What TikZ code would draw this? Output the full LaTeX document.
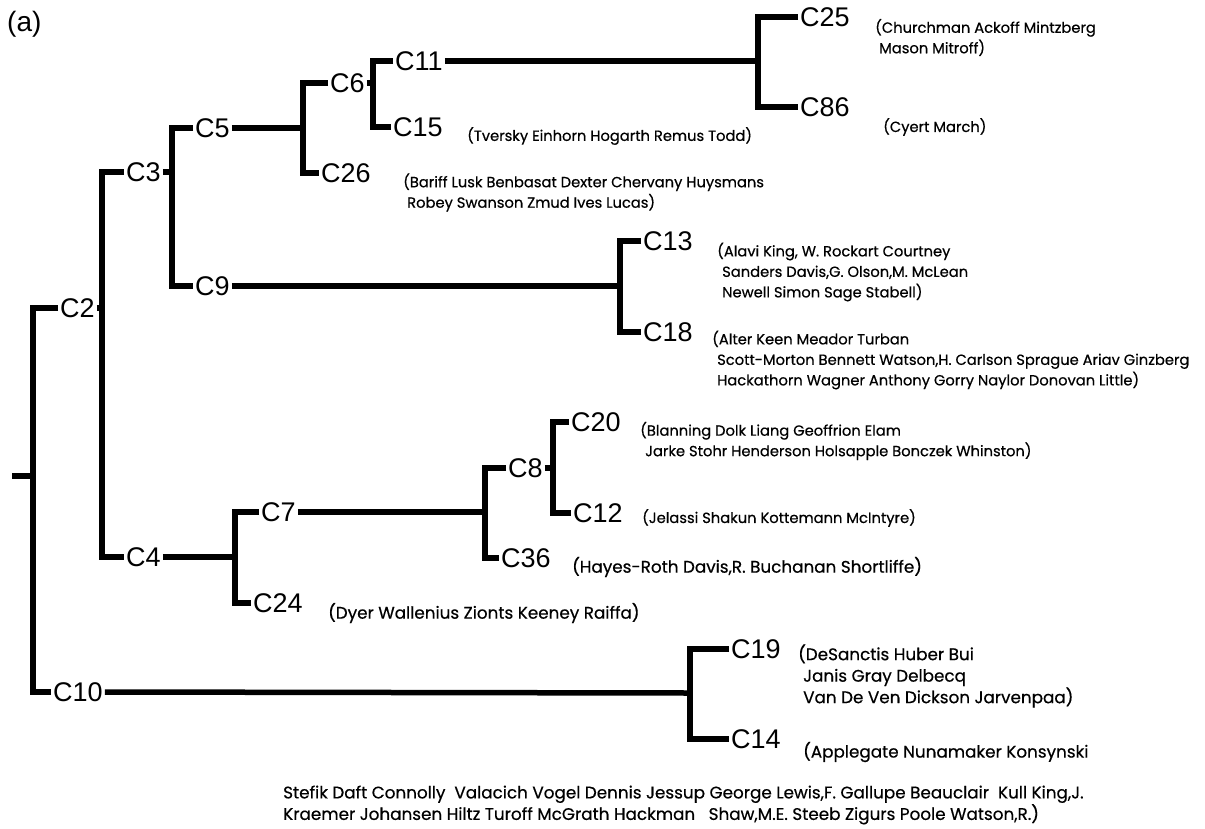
\documentclass[tikz,border=0pt]{standalone}
\usepackage{fontspec}
\setmainfont{Liberation Sans}
\newfontfamily\namefont[FakeBold=0.5]{Poppins}

\begin{document}
\begin{tikzpicture}[x=1pt, y=-1pt,
    clus/.style={anchor=west, inner sep=2pt, font=\fontsize{27}{27}\selectfont},
    who/.style={anchor=west, inner sep=0pt, align=left, font=\namefont\fontsize{14.7}{20.5}\selectfont},
    whobig/.style={who, font=\namefont\fontsize{16.8}{21.5}\selectfont},
    branch/.style={line width=5.5pt, line join=miter}]
    \useasboundingbox (0,0) rectangle (1205,828);

    \node[anchor=west, inner sep=0pt, font=\fontsize{28}{28}\selectfont] (tag) at (7,24) {(a)};

    % cluster labels
    \node[clus] (c2)  at (58,308)  {C2};
    \node[clus] (c10) at (51,692)  {C10};
    \node[clus] (c3)  at (124,172) {C3};
    \node[clus] (c4)  at (124,557) {C4};
    \node[clus] (c5)  at (193,128) {C5};
    \node[clus] (c9)  at (193,286) {C9};
    \node[clus] (c6)  at (328,83)  {C6};
    \node[clus] (c26) at (319,173) {C26};
    \node[clus] (c11) at (393,61)  {C11};
    \node[clus] (c15) at (391,127) {C15};
    \node[clus] (c25) at (798,17)  {C25};
    \node[clus] (c86) at (798,107) {C86};
    \node[clus] (c13) at (641,241) {C13};
    \node[clus] (c18) at (641,332) {C18};
    \node[clus] (c7)  at (259,512) {C7};
    \node[clus] (c24) at (251,603) {C24};
    \node[clus] (c8)  at (506,468) {C8};
    \node[clus] (c36) at (499,558) {C36};
    \node[clus] (c20) at (569,422) {C20};
    \node[clus] (c12) at (571,513) {C12};
    \node[clus] (c19) at (729,649) {C19};
    \node[clus] (c14) at (729,739) {C14};

    % junctions
    \coordinate (root) at (12,476);
    \coordinate (j1)  at (33,476);
    \coordinate (j2)  at (102,308);
    \coordinate (j3)  at (172,172);
    \coordinate (j5)  at (303,128);
    \coordinate (j6)  at (373,83);
    \coordinate (j11) at (758,61);
    \coordinate (j9)  at (620,286);
    \coordinate (j4)  at (235,557);
    \coordinate (j7)  at (485,512);
    \coordinate (j8)  at (553,468);
    \coordinate (j10) at (690,693);

    \draw[branch] (root) -- (j1);
    \draw[branch] (c2.west) -| (j1) |- (c10.west);
    \draw[branch] (c2.east) -- (j2);
    \draw[branch] (c3.west) -| (j2) |- (c4.west);
    \draw[branch] (c3.east) -- (j3);
    \draw[branch] (c5.west) -| (j3) |- (c9.west);
    \draw[branch] (c5.east) -- (j5);
    \draw[branch] (c6.west) -| (j5) |- (c26.west);
    \draw[branch] (c6.east) -- (j6);
    \draw[branch] (c11.west) -| (j6) |- (c15.west);
    \draw[branch] (c11.east) -- (j11);
    \draw[branch] (c25.west) -| (j11) |- (c86.west);
    \draw[branch] (c9.east) -- (j9);
    \draw[branch] (c13.west) -| (j9) |- (c18.west);
    \draw[branch] (c4.east) -- (j4);
    \draw[branch] (c7.west) -| (j4) |- (c24.west);
    \draw[branch] (c7.east) -- (j7);
    \draw[branch] (c8.west) -| (j7) |- (c36.west);
    \draw[branch] (c8.east) -- (j8);
    \draw[branch] (c20.west) -| (j8) |- (c12.west);
    \draw[branch] (c10.east) -- (j10);
    \draw[branch] (c19.west) -| (j10) |- (c14.west);

    % member lists
    \node[who] (t25) at (875,37.5) {(Churchman Ackoff Mintzberg\\\hspace*{4pt}Mason Mitroff)};
    \node[who] (t86) at (883,127) {(Cyert March)};
    \node[who] (t15) at (467,136) {(Tversky Einhorn Hogarth Remus Todd)};
    \node[who] (t26) at (403,192.5) {(Bariff Lusk Benbasat Dexter Chervany Huysmans\\\hspace*{4pt}Robey Swanson Zmud Ives Lucas)};
    \node[who] (t13) at (717,272) {(Alavi King, W. Rockart Courtney\\\hspace*{5pt}Sanders Davis,G. Olson,M. McLean\\\hspace*{5pt}Newell Simon Sage Stabell)};
    \node[who] (t18) at (712,360) {(Alter Keen Meador Turban\\\hspace*{5pt}Scott-Morton Bennett Watson,H. Carlson Sprague Ariav Ginzberg\\\hspace*{5pt}Hackathorn Wagner Anthony Gorry Naylor Donovan Little)};
    \node[who] (t20) at (640,441) {(Blanning Dolk Liang Geoffrion Elam\\\hspace*{5pt}Jarke Stohr Henderson Holsapple Bonczek Whinston)};
    \node[who] (t12) at (642,518) {(Jelassi Shakun Kottemann McIntyre)};
    \node[whobig] (t36) at (572,567) {(Hayes-Roth Davis,R. Buchanan Shortliffe)};
    \node[whobig] (t24) at (328,613) {(Dyer Wallenius Zionts Keeney Raiffa)};
    \node[whobig] (t19) at (798,676) {(DeSanctis Huber Bui\\\hspace*{5pt}Janis Gray Delbecq\\\hspace*{5pt}Van De Ven Dickson Jarvenpaa)};
    \node[whobig] (t14) at (803,752) {(Applegate Nunamaker Konsynski};
    \node[whobig] (t14b) at (283,805) {Stefik Daft Connolly\ \ Valacich Vogel Dennis Jessup George Lewis,F. Gallupe Beauclair\ \ Kull King,J.\\Kraemer Johansen Hiltz Turoff McGrath Hackman\ \ \ Shaw,M.E. Steeb Zigurs Poole Watson,R.)};
\end{tikzpicture}
\end{document}
